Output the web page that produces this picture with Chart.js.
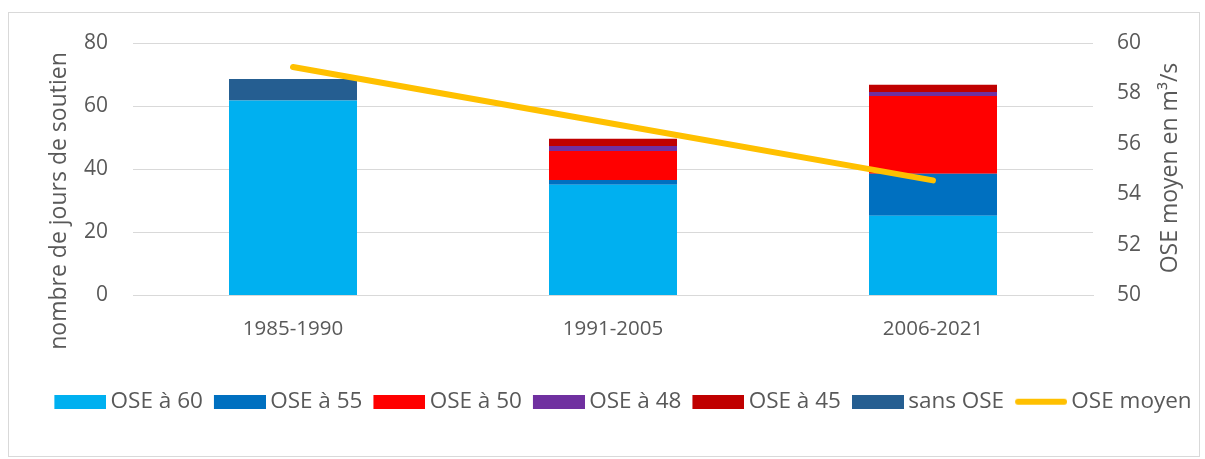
<!DOCTYPE html>
<html>
<head>
<meta charset="utf-8">
<script src="https://cdn.jsdelivr.net/npm/chart.js@4/dist/chart.umd.min.js"></script>
<style>
  body { margin: 0; background: #fff; }
  #frame { position: absolute; left: 8px; top: 12px; width: 1192px; height: 445px; border: 1px solid #d9d9d9; box-sizing: border-box; }
  #wrap { position: absolute; left: 0; top: 0; width: 1205px; height: 459px; }
</style>
</head>
<body>
<div id="frame"></div>
<div id="wrap"><canvas id="chart"></canvas></div>
<script>
// data
const periods = ['1985-1990', '1991-2005', '2006-2021'];
const ose60 = [61.8, 35.1, 25.3];
const ose55 = [0, 1.5, 13.3];
const ose50 = [0, 9.2, 24.6];
const ose48 = [0, 1.6, 1.3];
const ose45 = [0, 2.3, 2.3];
const sansOse = [6.8, 0, 0];
const oseMoyen = [59.05, 56.8, 54.56];

const leftTitle = 'nombre de jours de soutien';
const rightTitle = 'OSE moyen en m³/s';

const txt = '#595959';
const font = "'Open Sans', sans-serif";
Chart.defaults.font.family = font;
Chart.defaults.color = txt;

function bar(label, data, color) {
    return { type: 'bar', label: label, data: data, backgroundColor: color, yAxisID: 'y', order: 1,
             categoryPercentage: 0.8, barPercentage: 0.5 };
}

// legend swatch: a small canvas, shifted right so it sits close to its text
const SW = 52, SHIFT = 7;
function swatch(color, isLine) {
    const cv = document.createElement('canvas');
    cv.width = SW + 2 * SHIFT;
    cv.height = 14;
    const c = cv.getContext('2d');
    if (isLine) {
        c.strokeStyle = color;
        c.lineWidth = 6;
        c.lineCap = 'round';
        c.beginPath();
        c.moveTo(2 * SHIFT + 3, 7);
        c.lineTo(cv.width - 3, 7);
        c.stroke();
    } else {
        c.fillStyle = color;
        c.fillRect(2 * SHIFT, 0, SW, 14);
    }
    return cv;
}

// axis titles, both read bottom to top like the original
const axisTitles = {
    id: 'axisTitles',
    afterDraw(chart) {
        const c = chart.ctx;
        c.save();
        c.fillStyle = txt;
        c.font = '23px ' + font;
        c.textAlign = 'center';
        c.textBaseline = 'middle';
        [[leftTitle, 59, 201], [rightTitle, 1170, 168]].forEach(function (t) {
            c.save();
            c.translate(t[1], t[2]);
            c.rotate(-Math.PI / 2);
            c.fillText(t[0], 0, 0);
            c.restore();
        });
        c.restore();
    }
};

new Chart(document.getElementById('chart'), {
    data: {
        labels: periods,
        datasets: [
            bar('OSE à 60', ose60, '#00B0F0'),
            bar('OSE à 55', ose55, '#0070C0'),
            bar('OSE à 50', ose50, '#FF0000'),
            bar('OSE à 48', ose48, '#7030A0'),
            bar('OSE à 45', ose45, '#C00000'),
            bar('sans OSE', sansOse, '#255E91'),
            {
                type: 'line', label: 'OSE moyen', data: oseMoyen, yAxisID: 'y1', order: 0,
                borderColor: '#FFC000', backgroundColor: '#FFC000', borderWidth: 6,
                pointRadius: 0, borderCapStyle: 'round', tension: 0
            }
        ]
    },
    plugins: [axisTitles],
    options: {
        responsive: true,
        maintainAspectRatio: false,
        animation: false,
        layout: { padding: { left: 34, right: 0, top: 43, bottom: 36 } },
        plugins: {
            tooltip: { enabled: false },
            legend: {
                position: 'bottom',
                onClick: null,
                labels: {
                    font: { size: 22.5 },
                    color: txt,
                    usePointStyle: true,
                    pointStyleWidth: SW,
                    boxHeight: 14,
                    padding: 4,
                    sort: function (a, b) { return a.datasetIndex - b.datasetIndex; },
                    generateLabels: function (chart) {
                        const items = Chart.defaults.plugins.legend.labels.generateLabels(chart);
                        items.forEach(function (it) {
                            const ds = chart.data.datasets[it.datasetIndex];
                            it.pointStyle = swatch(ds.type === 'line' ? ds.borderColor : ds.backgroundColor, ds.type === 'line');
                            it.lineWidth = 0;
                        });
                        return items;
                    }
                }
            }
        },
        scales: {
            x: {
                stacked: true,
                grid: { display: false },
                border: { color: '#d9d9d9' },
                ticks: { font: { size: 20.5 }, color: txt, padding: 13 },
                afterFit: function (s) { s.height = 91; }
            },
            y: {
                stacked: true,
                position: 'left',
                min: 0, max: 80,
                ticks: { stepSize: 20, font: { size: 21 }, color: txt, padding: 25 },
                grid: { color: '#d9d9d9', drawTicks: false },
                border: { display: false },
                afterFit: function (s) { s.width = 99; }
            },
            y1: {
                position: 'right',
                min: 50, max: 60,
                ticks: { stepSize: 2, font: { size: 21 }, color: txt, padding: 24 },
                grid: { display: false, drawTicks: false },
                border: { display: false },
                afterFit: function (s) { s.width = 112; }
            }
        }
    }
});
</script>
</body>
</html>
